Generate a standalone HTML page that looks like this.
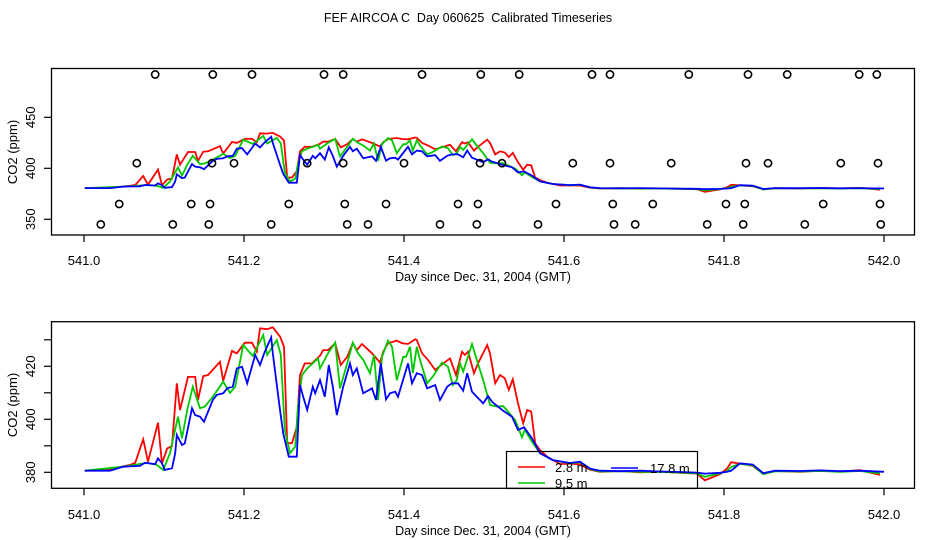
<!DOCTYPE html>
<html><head><meta charset="utf-8"><style>
body{margin:0;background:#fff}
svg{display:block;font-family:"Liberation Sans",sans-serif}
</style></head><body>
<svg id="chart" width="936" height="540" viewBox="0 0 936 540" xmlns="http://www.w3.org/2000/svg">
<rect width="936" height="540" fill="#fff"/>
<text x="468" y="22" font-size="12.5" text-anchor="middle" xml:space="preserve" style="white-space:pre">FEF AIRCOA C  Day 060625  Calibrated Timeseries</text>
<defs>
<clipPath id="cTop"><rect x="52" y="69" width="862" height="165"/></clipPath>
<clipPath id="cBot"><rect x="52" y="322" width="862" height="166"/></clipPath>
</defs>
<g id="top"></g>
<g id="bot"></g>
</svg>
<script>
const redDays=[541.001,541.0325,541.0575,541.064,541.074,541.080,541.0925,541.0975,541.104,541.110,541.116,541.120,541.130,541.139,541.1425,541.149,541.155,541.170,541.174,541.185,541.191,541.201,541.210,541.216,541.220,541.229,541.236,541.245,541.250,541.254,541.260,541.266,541.270,541.276,541.285,541.295,541.299,541.305,541.314,541.321,541.329,541.336,541.341,541.3475,541.360,541.370,541.374,541.380,541.391,541.3975,541.405,541.414,541.416,541.4225,541.430,541.439,541.449,541.4575,541.465,541.4725,541.476,541.480,541.4875,541.4925,541.504,541.5075,541.514,541.520,541.526,541.531,541.536,541.5425,541.549,541.554,541.559,541.564,541.570,541.579,541.595,541.6075,541.620,541.6325,541.645,541.670,541.695,541.720,541.745,541.766,541.776,541.795,541.804,541.809,541.820,541.836,541.849,541.864,541.895,541.920,541.945,541.970,541.995];
const redVals=[380.6,381.1,382.8,383.6,392.5,384,398.7,383.4,389,389.9,413.6,403.5,416,416,407.3,416.3,416.7,421.7,414.5,425.8,424.9,428.9,428.9,425.5,434.3,434,434.7,431.2,427.4,391,391,397.2,416.7,421.1,421.1,424,426.1,426.1,428.7,420.5,423.6,428.7,426.1,428.4,424.9,421.4,425.5,428.7,429.7,428.7,428.4,430.2,429.9,424.9,422.4,418.6,421.1,423,416.7,425.5,424.3,425.5,417.4,421.1,428,424.9,413.6,416.7,415.5,411.1,415.1,406,398.5,403.5,402.9,390.9,388.4,385.9,383.1,383.3,383,381,380.2,380.5,380,380.3,379.8,379.5,377,379.3,381.5,383.8,383.3,382.4,379.4,380.5,380.2,380.6,380.3,380.8,379];
const greenDays=[541.001,541.049,541.079,541.091,541.099,541.1075,541.1175,541.1225,541.129,541.136,541.145,541.151,541.161,541.174,541.1825,541.189,541.199,541.211,541.224,541.229,541.241,541.246,541.251,541.2575,541.264,541.2675,541.2725,541.279,541.286,541.2925,541.295,541.305,541.314,541.320,541.329,541.336,541.3425,541.349,541.3575,541.3625,541.3675,541.3725,541.380,541.385,541.391,541.399,541.4025,541.4075,541.411,541.416,541.420,541.429,541.436,541.4475,541.455,541.461,541.466,541.470,541.474,541.485,541.491,541.499,541.5075,541.516,541.524,541.530,541.539,541.5475,541.551,541.560,541.570,541.586,541.6075,541.620,541.6325,541.645,541.670,541.695,541.720,541.745,541.766,541.776,541.795,541.804,541.809,541.820,541.836,541.849,541.864,541.895,541.920,541.945,541.970,541.995];
const greenVals=[380.6,382.1,383.6,382.8,380.9,387.2,401,392.8,403.5,412.3,404.2,404.8,408.5,414.2,410,412.3,428,423.9,431.8,424.3,429.9,424.3,396,387.2,389.7,404.8,416.7,419.2,421.1,423,419.2,424.9,428.9,411.7,421.1,428.9,424.9,422.4,417.4,424.3,407.3,423.6,429.7,427.4,414.8,423.6,423.6,427.4,417.4,427.4,422.4,413.6,416.1,421.4,419.8,412.9,414.8,421.1,418,428.4,422.4,414.8,405.4,404.8,405,402.9,399.7,393.2,396,391.5,387.2,384.6,383.4,383.8,381.2,380.3,380.4,380.2,380.1,379.9,379.6,378.3,379.6,380.5,382,383.2,382.6,379.3,380.4,380.3,380.5,380.2,380.5,379.6];
const blueDays=[541.001,541.0325,541.049,541.070,541.076,541.089,541.0925,541.0975,541.101,541.110,541.114,541.116,541.1225,541.126,541.135,541.139,541.145,541.150,541.161,541.166,541.174,541.179,541.186,541.191,541.1975,541.204,541.214,541.220,541.226,541.234,541.236,541.245,541.249,541.256,541.266,541.270,541.274,541.279,541.286,541.289,541.295,541.301,541.306,541.311,541.316,541.324,541.3325,541.336,541.341,541.349,541.360,541.365,541.371,541.3775,541.3825,541.389,541.3925,541.405,541.410,541.416,541.4225,541.429,541.439,541.445,541.454,541.460,541.4675,541.474,541.479,541.485,541.499,541.505,541.510,541.524,541.535,541.5425,541.550,541.560,541.570,541.586,541.6075,541.620,541.6325,541.645,541.670,541.695,541.720,541.745,541.766,541.776,541.795,541.804,541.809,541.820,541.836,541.849,541.864,541.895,541.920,541.945,541.970,542.000];
const blueVals=[380.6,380.6,382.1,382.4,383.6,383.1,385.3,383.4,380.9,381.5,387.2,394.1,390.3,390.9,404.2,401.6,401,399.1,407.3,409.2,409.8,411.7,412.3,419.2,419.8,413.6,424.3,420.5,425.5,430.9,424.9,403.5,394.7,385.9,385.9,413,408.5,403.5,412.3,409.8,414.8,408.5,420.5,412.3,401.6,412.3,421.1,416.7,419.2,409.8,411.7,407.3,421.1,407.5,409.8,410.4,408.5,421.1,413.6,417.4,416.7,411.7,412.9,407.3,412.3,413.6,413.6,410.8,417.4,410.4,406,408.8,406.6,403.2,401,396,397,392.8,387.2,384.6,383.5,384,381.4,380.6,380.4,380.6,380.3,380.1,379.9,379.5,379.8,380.2,380.6,383.4,382.9,379.7,380.6,380.5,380.7,380.4,380.6,380.2];
const circleDays=[541.089,541.161,541.210,541.300,541.324,541.4225,541.496,541.544,541.635,541.6575,541.756,541.830,541.879,541.969,541.991,
541.066,541.160,541.1875,541.279,541.324,541.400,541.495,541.5225,541.611,541.6575,541.734,541.8275,541.855,541.946,541.9925,
541.044,541.134,541.1575,541.256,541.326,541.3775,541.4675,541.4925,541.590,541.661,541.711,541.8025,541.826,541.924,541.995,
541.021,541.111,541.156,541.234,541.329,541.355,541.445,541.491,541.5675,541.6625,541.689,541.779,541.824,541.901,541.996];
const circleVals=[492,492,492,492,492,492,492,492,492,492,492,492,492,492,492,
405,405,405,405,405,405,405,405,405,405,405,405,405,405,405,
365,365,365,365,365,365,365,365,365,365,365,365,365,365,365,
345,345,345,345,345,345,345,345,345,345,345,345,345,345,345];
const xTicks=[541.0,541.2,541.4,541.6,541.8,542.0];
const xTickLabels=["541.0","541.2","541.4","541.6","541.8","542.0"];
const topYTicks=[350,400,450];
const botYTicks=[380,390,400,410,420,430];
const botYLabels=["380","","400","","420",""];
const legendNames=["2.8 m","9.5 m","17.8 m"];

const NS="http://www.w3.org/2000/svg";
function X(d){return 84+(d-541)*800;}
function YT(v){return 168.3-(v-400)*1.02;}
function YB(v){return 472.3-(v-380)*2.65;}
function mk(tag,attrs,parent){const e=document.createElementNS(NS,tag);for(const k in attrs)e.setAttribute(k,attrs[k]);parent.appendChild(e);return e;}

function panel(g,top,bottom,Y,ticks,labels,clip,yTitleY,xLabY,xTitleY,nm){
  const box=mk('rect',{x:51.5,y:top,width:863,height:bottom-top,fill:'none',stroke:'#000','stroke-width':1.3},g);
  
  
  xTicks.forEach((t,i)=>{
    const l=mk('line',{x1:X(t),x2:X(t),y1:bottom,y2:bottom+7,stroke:'#000','stroke-width':1.2},g);
    
    
    const tx=mk('text',{x:X(t),y:xLabY,'font-size':13,'text-anchor':'middle'},g);
    tx.textContent=xTickLabels[i];
    
    
  });
  ticks.forEach((t,i)=>{
    const l=mk('line',{x1:44,x2:51.5,y1:Y(t),y2:Y(t),stroke:'#000','stroke-width':1.2},g);
    
    
    if(labels[i]){
      const tx=mk('text',{x:0,y:0,'font-size':13,'text-anchor':'middle',transform:`translate(35,${Y(t)}) rotate(-90)`},g);
      tx.textContent=labels[i];
      
      
    }
  });
  const yt=mk('text',{x:0,y:0,'font-size':13,'text-anchor':'middle',transform:`translate(17,${yTitleY}) rotate(-90)`},g);
  yt.textContent='CO2 (ppm)';
  
  
  const xt=mk('text',{x:483,y:xTitleY,'font-size':12.5,'text-anchor':'middle'},g);
  xt.textContent='Day since Dec. 31, 2004 (GMT)';
  
  
  const cg=mk('g',{'clip-path':`url(#${clip})`},g);
  const series=[[redDays,redVals,'#ff0000','red'],[greenDays,greenVals,'#00c800','green'],[blueDays,blueVals,'#0000ff','blue']];
  series.forEach(s=>{
    const pts=s[0].map((d,i)=>X(d).toFixed(1)+','+Y(s[1][i]).toFixed(1)).join(' ');
    const p=mk('polyline',{points:pts,fill:'none',stroke:s[2],'stroke-width':1.8,'stroke-linejoin':'miter'},cg);
    
    
  });
  return cg;
}
const topG=document.getElementById('top'), botG=document.getElementById('bot');
panel(topG,68.5,235,YT,topYTicks,["350","400","450"],'cTop',152,265,281,'top');
circleDays.forEach((d,i)=>{
  const c=mk('circle',{cx:X(d),cy:YT(circleVals[i]),r:3.6,fill:'none',stroke:'#000','stroke-width':1.6},topG);
  
  
});
panel(botG,321.7,488.3,YB,botYTicks,botYLabels,'cBot',405,519,535,'bottom');
const lg=mk('g',{},botG);


mk('rect',{x:506.5,y:451.5,width:191,height:37,fill:'none',stroke:'#000','stroke-width':1.2},lg);
const legPos=[[518,467,555],[518,483,555],[611,468,650]];
const legCol=['#ff0000','#00c800','#0000ff'];
legendNames.forEach((n,i)=>{
  const l=mk('line',{x1:legPos[i][0],x2:legPos[i][0]+27,y1:legPos[i][1],y2:legPos[i][1],stroke:legCol[i],'stroke-width':1.5},lg);
  
  
  const t=mk('text',{x:legPos[i][2],y:legPos[i][1]+5,'font-size':13,'clip-path':'url(#cBot)'},lg);
  t.textContent=n;
  
  
});
</script>
</body></html>
